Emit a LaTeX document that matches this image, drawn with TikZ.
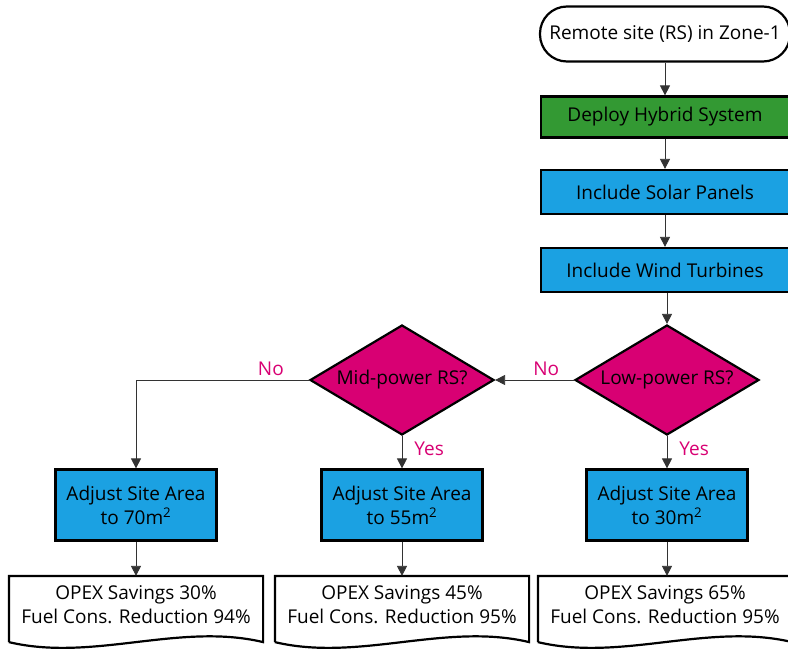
\documentclass[tikz,border=0pt]{standalone}
\usepackage{fontspec}
\setmainfont{Open Sans}
\usepackage{xcolor}
\usetikzlibrary{shapes.geometric,arrows.meta}
\definecolor{hybgreen}{HTML}{339933}
\definecolor{panelblue}{HTML}{1BA1E2}
\definecolor{askpink}{HTML}{D80073}

\begin{document}
\begin{tikzpicture}[x=1pt, y=1pt,
    font=\fontsize{19}{24}\selectfont,
    every node/.style={line width=2.2pt},
    terminal/.style={draw, rounded corners=27pt, fill=white, minimum width=250pt, minimum height=55pt},
    stepbox/.style={draw, fill=panelblue, minimum width=248pt, minimum height=44pt},
    areabox/.style={draw, fill=panelblue, minimum width=161pt, minimum height=71pt, align=center},
    askbox/.style={draw, diamond, fill=askpink, inner sep=0pt, minimum width=184pt, minimum height=110pt},
    docbox/.style={minimum width=252pt, minimum height=56pt, align=center},
    docline/.style={line width=2.2pt},
    flow/.style={-{Triangle[length=10pt,width=10pt]}, line width=0.8pt, draw=black!80},
    answer/.style={text=askpink}]
  \useasboundingbox (0,0) rectangle (788,-653);

  % main column
  \node[terminal] (start) at (665,-34) {Remote site (RS) in Zone-1};
  \node[stepbox, fill=hybgreen, minimum height=41pt] (hybrid) at (665,-117) {Deploy Hybrid System};
  \node[stepbox] (solar) at (665,-192) {Include Solar Panels};
  \node[stepbox] (wind) at (665,-270) {Include Wind Turbines};

  % questions
  \node[askbox] (low) at (667,-380) {\makebox[0pt]{Low-power RS?}};
  \node[askbox] (mid) at (402,-380) {\makebox[0pt]{Mid-power RS?}};

  % site areas
  \node[areabox] (area70) at (136,-505) {Adjust Site Area\\to 70m\textsuperscript{2}};
  \node[areabox] (area55) at (402,-505) {Adjust Site Area\\to 55m\textsuperscript{2}};
  \node[areabox] (area30) at (667,-505) {Adjust Site Area\\to 30m\textsuperscript{2}};

  % results
  \node[docbox] (res70) at (136,-605) {OPEX Savings 30\%\\Fuel Cons. Reduction 94\%};
  \node[docbox] (res55) at (402,-605) {OPEX Savings 45\%\\Fuel Cons. Reduction 95\%};
  \node[docbox] (res30) at (665,-605) {OPEX Savings 65\%\\Fuel Cons. Reduction 95\%};
  \foreach \r in {res70,res55,res30} {
    \draw[docline] ([yshift=-8pt]\r.south west) -- (\r.north west) -- (\r.north east) -- ([yshift=-8pt]\r.south east)
      .. controls +(-84,20) and +(84,-20) .. ([yshift=-8pt]\r.south west);
  }

  % connectors
  \draw[flow] (start) -- (hybrid);
  \draw[flow] (hybrid) -- (solar);
  \draw[flow] (solar) -- (wind);
  \draw[flow] (wind.south -| low.north) -- (low);
  \draw[flow] (low.west) -- node[pos=0.35, above, answer] {No} (mid.east);
  \draw[flow] (mid.west) -| node[pos=0.11, above, answer] {No} (area70.north);
  \draw[flow] (mid.south) -- node[pos=0.4, right, answer, xshift=8pt] {Yes} (area55.north);
  \draw[flow] (low.south) -- node[pos=0.4, right, answer, xshift=8pt] {Yes} (area30.north);
  \draw[flow] (area70) -- (res70);
  \draw[flow] (area55) -- (res55);
  \draw[flow] (area30.south) -- (area30.south |- res30.north);
\end{tikzpicture}
\end{document}
